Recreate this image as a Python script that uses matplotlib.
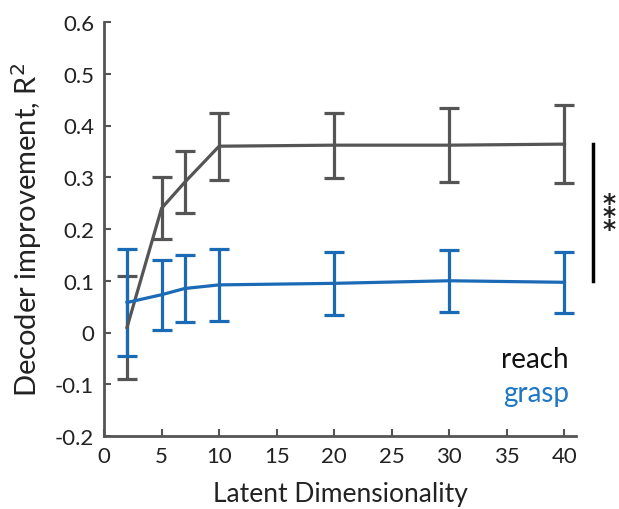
import matplotlib
matplotlib.use("Agg")
import matplotlib.pyplot as plt

plt.rcParams['font.family'] = ['Lato', 'DejaVu Sans']

dims = [2, 5, 7, 10, 20, 30, 40]
reach_mean = [0.01, 0.24, 0.29, 0.36, 0.362, 0.362, 0.364]
reach_err = [0.10, 0.06, 0.06, 0.065, 0.063, 0.072, 0.076]
grasp_mean = [0.058, 0.073, 0.085, 0.092, 0.095, 0.10, 0.097]
grasp_err = [0.103, 0.068, 0.065, 0.069, 0.061, 0.06, 0.059]

xticks = [0, 5, 10, 15, 20, 25, 30, 35, 40]
yticks = [-0.2, -0.1, 0, 0.1, 0.2, 0.3, 0.4, 0.5, 0.6]
ytick_labels = ['-0.2', '-0.1', '0', '0.1', '0.2', '0.3', '0.4', '0.5', '0.6']

gray = '#555555'
blue = '#1b6ab5'

fig = plt.figure(figsize=(6.19, 5.10), dpi=100)
ax = fig.add_axes([104/619, 1-437/510, (576-104)/619, (437-23)/510])

ax.errorbar(dims, reach_mean, yerr=reach_err, color=gray, lw=2.3, capsize=7,
            capthick=2.3, elinewidth=2.3)
ax.errorbar(dims, grasp_mean, yerr=grasp_err, color=blue, lw=2.3, capsize=7,
            capthick=2.3, elinewidth=2.3)

ax.set_xlim(0, 41)
ax.set_ylim(-0.2, 0.6)
ax.set_xticks(xticks)
ax.set_yticks(yticks)
ax.set_yticklabels(ytick_labels)
for s in ['top', 'right']:
    ax.spines[s].set_visible(False)
for s in ['left', 'bottom']:
    ax.spines[s].set_color(gray)
    ax.spines[s].set_linewidth(2)
ax.tick_params(direction='in', length=5, width=1.5, color=gray, labelsize=16,
               labelcolor='#222222', pad=7)
ax.set_xlabel('Latent Dimensionality', fontsize=19, labelpad=11, color='#222222')
ax.set_ylabel('Decoder improvement, R$^2$', fontsize=21, labelpad=8, color='#222222')

# significance bracket
ax.plot([42.5, 42.5], [0.099, 0.365], color='black', lw=2.5, clip_on=False)
ax.text(43.9, 0.225, '*\n*\n*', ha='center', va='center', fontsize=18,
        linespacing=0.42, fontweight='bold', color='#222222',
        family='DejaVu Sans', clip_on=False)

ax.text(40.4, -0.066, 'reach', color='#111111', fontsize=20, ha='right', va='baseline')
ax.text(40.4, -0.133, 'grasp', color='#1f77c4', fontsize=20, ha='right', va='baseline')

fig.savefig('out.png', dpi=100)
